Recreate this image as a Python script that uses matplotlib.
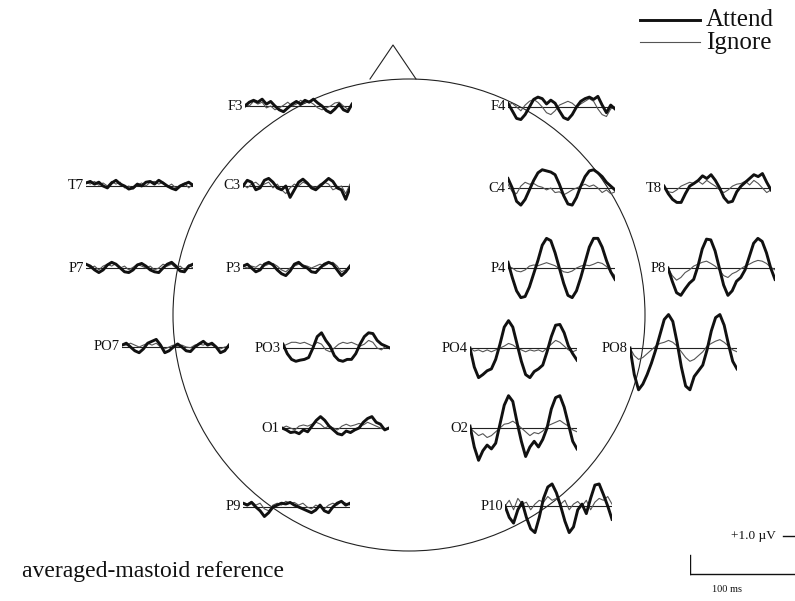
import numpy as np
import matplotlib.pyplot as plt
from matplotlib.patches import Circle

plt.rcParams['font.family'] = ['Liberation Serif', 'DejaVu Serif']

# time base of each averaged trace (ms)
t_ms = np.arange(0, 101, 4)

# averaged waveforms (uV), attend vs ignore, one pair per electrode
f3_attend = [0.0, 0.1, 0.15, 0.1, 0.18, 0.05, 0.12, 0.0, -0.1, -0.15, -0.05, 0.05, 0.12,
             0.05, 0.15, 0.1, 0.18, 0.08, 0.0, -0.12, -0.18, -0.08, 0.05, -0.1, -0.15, 0.05]
f3_ignore = [0.05, 0.0, 0.12, 0.05, 0.1, -0.05, 0.0, -0.1, -0.05, 0.02, 0.1, 0.0, 0.05,
             0.15, 0.08, 0.12, 0.05, -0.05, -0.1, -0.05, 0.0, 0.08, 0.1, 0.0, -0.08, 0.0]
f4_attend = [0.1, -0.1, -0.3, -0.33, -0.2, 0.0, 0.2, 0.26, 0.22, 0.08, 0.18, 0.1, -0.1,
             -0.28, -0.33, -0.2, 0.0, 0.15, 0.22, 0.26, 0.2, 0.28, 0.05, -0.15, 0.05, -0.05]
f4_ignore = [0.05, 0.1, 0.0, -0.1, 0.05, 0.15, 0.2, 0.12, 0.0, -0.15, -0.2, -0.1, 0.05,
             0.1, 0.15, 0.1, 0.0, 0.08, 0.15, 0.22, 0.15, -0.05, -0.2, -0.25, -0.05, 0.0]
t7_attend = [0.08, 0.12, 0.05, 0.1, 0.0, -0.05, 0.08, 0.15, 0.05, 0.0, -0.08, -0.05, 0.05,
             0.0, 0.1, 0.12, 0.05, 0.15, 0.08, 0.0, -0.06, -0.1, 0.0, 0.05, 0.1, 0.02]
t7_ignore = [0.1, 0.05, 0.12, 0.02, 0.08, 0.0, 0.12, 0.05, 0.1, -0.05, 0.0, -0.08, 0.02,
             0.08, 0.0, 0.1, 0.12, 0.05, 0.1, -0.02, 0.05, -0.05, 0.02, 0.08, -0.05, 0.05]
c3_attend = [0.0, 0.15, 0.1, -0.1, -0.05, 0.15, 0.2, 0.1, -0.05, -0.1, 0.0, -0.3, -0.1,
             0.1, 0.18, 0.08, -0.05, -0.1, 0.0, 0.1, 0.2, 0.12, -0.05, -0.1, -0.35, -0.05]
c3_ignore = [0.05, -0.05, 0.05, 0.1, 0.0, 0.05, 0.1, -0.05, 0.05, -0.1, -0.2, -0.05, 0.05,
             0.0, 0.1, 0.05, 0.0, -0.05, 0.05, 0.1, 0.05, -0.1, -0.05, 0.0, -0.2, 0.05]
c4_attend = [0.25, 0.0, -0.35, -0.45, -0.3, -0.05, 0.2, 0.4, 0.48, 0.45, 0.42, 0.35, 0.1,
             -0.2, -0.42, -0.45, -0.25, 0.05, 0.3, 0.45, 0.48, 0.4, 0.3, 0.15, 0.05, -0.05]
c4_ignore = [0.1, -0.1, -0.15, 0.05, 0.15, 0.1, 0.12, 0.05, 0.02, -0.05, 0.0, -0.12, -0.1,
             -0.18, -0.12, -0.05, 0.0, 0.05, 0.1, 0.04, 0.08, 0.0, -0.12, -0.05, -0.15, -0.1]
t8_attend = [0.05, -0.15, -0.3, -0.38, -0.38, -0.15, 0.05, 0.12, 0.2, 0.32, 0.25, 0.35, 0.2,
             0.0, -0.25, -0.38, -0.35, -0.1, 0.05, 0.15, 0.25, 0.35, 0.3, 0.38, 0.15, -0.05]
t8_ignore = [0.05, -0.1, -0.12, -0.05, 0.05, 0.1, 0.15, 0.12, 0.18, 0.1, 0.2, 0.12, 0.05,
             -0.05, -0.12, -0.05, 0.05, 0.1, 0.12, 0.18, 0.08, 0.2, 0.12, 0.0, -0.12, -0.05]
p7_attend = [0.1, 0.05, -0.05, -0.12, -0.05, 0.08, 0.15, 0.1, 0.0, -0.1, -0.12, -0.05, 0.08,
             0.12, 0.05, -0.05, -0.1, -0.12, 0.0, 0.1, 0.15, 0.05, -0.08, -0.1, 0.05, 0.1]
p7_ignore = [0.1, 0.0, 0.05, -0.05, 0.05, 0.1, 0.05, 0.12, 0.0, 0.05, -0.05, 0.02, 0.1,
             0.05, 0.0, 0.05, -0.05, 0.0, 0.1, 0.05, 0.1, 0.0, 0.05, -0.05, 0.08, 0.0]
p3_attend = [0.05, 0.1, 0.0, -0.1, -0.05, 0.1, 0.15, 0.08, -0.05, -0.15, -0.2, -0.08, 0.1,
             0.15, 0.05, 0.0, -0.1, -0.12, 0.0, 0.1, 0.15, 0.1, -0.05, -0.2, -0.1, 0.05]
p3_ignore = [0.05, 0.0, 0.05, 0.02, 0.1, 0.05, 0.1, 0.12, 0.05, -0.05, -0.1, 0.0, 0.05,
             0.1, 0.08, 0.05, 0.0, 0.05, 0.1, 0.05, 0.12, 0.15, 0.05, -0.1, -0.05, 0.05]
p4_attend = [0.15, -0.25, -0.6, -0.78, -0.75, -0.5, -0.15, 0.2, 0.6, 0.78, 0.72, 0.4, 0.0,
             -0.4, -0.72, -0.78, -0.6, -0.25, 0.15, 0.55, 0.78, 0.78, 0.55, 0.2, -0.1, -0.3]
p4_ignore = [0.05, 0.0, -0.08, -0.1, -0.05, 0.05, 0.08, 0.06, 0.1, 0.14, 0.1, 0.06, -0.02,
             -0.1, -0.12, -0.08, 0.0, 0.05, 0.08, 0.06, 0.1, 0.15, 0.12, 0.04, -0.1, -0.2]
p8_attend = [0.0, -0.35, -0.65, -0.72, -0.55, -0.4, -0.3, 0.05, 0.5, 0.76, 0.74, 0.45, 0.0,
             -0.45, -0.72, -0.6, -0.35, -0.25, -0.05, 0.3, 0.65, 0.78, 0.7, 0.4, 0.0, -0.3]
p8_ignore = [0.0, -0.2, -0.32, -0.25, -0.12, -0.05, 0.05, 0.1, 0.15, 0.18, 0.12, 0.05, -0.05,
             -0.2, -0.25, -0.15, -0.1, -0.02, 0.05, 0.1, 0.16, 0.2, 0.18, 0.12, 0.02, -0.05]
po7_attend = [0.05, 0.1, 0.0, -0.1, -0.15, -0.05, 0.1, 0.15, 0.2, 0.05, -0.15, -0.1, 0.0,
              0.08, 0.0, -0.1, -0.12, 0.0, 0.08, 0.15, 0.05, 0.1, 0.0, -0.15, -0.1, 0.05]
po7_ignore = [0.05, 0.05, 0.1, 0.05, 0.0, 0.05, 0.1, 0.05, 0.1, 0.0, -0.05, 0.0, 0.05,
              0.02, 0.05, 0.0, -0.02, 0.05, 0.08, 0.05, 0.1, 0.05, 0.0, -0.05, 0.0, 0.02]
po3_attend = [0.1, -0.15, -0.3, -0.35, -0.32, -0.3, -0.25, 0.0, 0.3, 0.4, 0.2, 0.05, -0.2,
              -0.32, -0.35, -0.3, -0.3, -0.15, 0.1, 0.3, 0.4, 0.38, 0.2, 0.1, 0.05, 0.0]
po3_ignore = [0.05, 0.1, 0.15, 0.15, 0.12, 0.15, 0.1, 0.05, 0.15, 0.1, -0.05, -0.1, 0.0,
              0.1, 0.15, 0.12, 0.15, 0.1, 0.05, 0.1, 0.2, 0.15, 0.0, -0.05, 0.05, 0.0]
po4_attend = [0.0, -0.5, -0.78, -0.7, -0.6, -0.55, -0.3, 0.1, 0.55, 0.72, 0.55, 0.1, -0.35,
              -0.7, -0.78, -0.62, -0.55, -0.45, -0.1, 0.3, 0.6, 0.62, 0.4, 0.05, -0.15, -0.32]
po4_ignore = [0.0, -0.08, -0.05, -0.1, -0.05, -0.1, -0.05, 0.0, 0.05, 0.12, 0.08, 0.0, -0.05,
              -0.1, -0.05, -0.08, -0.05, -0.1, 0.0, 0.1, 0.2, 0.15, 0.05, -0.05, -0.1, -0.05]
po8_attend = [0.0, -0.7, -1.1, -0.95, -0.7, -0.4, -0.05, 0.35, 0.75, 0.88, 0.7, 0.15, -0.5,
              -1.0, -1.1, -0.75, -0.6, -0.45, -0.05, 0.45, 0.8, 0.88, 0.6, 0.1, -0.35, -0.55]
po8_ignore = [0.0, -0.2, -0.3, -0.25, -0.15, -0.05, 0.05, 0.12, 0.15, 0.2, 0.15, 0.05, -0.1,
              -0.25, -0.35, -0.3, -0.2, -0.1, 0.05, 0.12, 0.18, 0.22, 0.15, 0.05, -0.05, -0.1]
o1_attend = [0.0, -0.05, -0.12, -0.1, -0.15, -0.05, -0.1, 0.05, 0.2, 0.3, 0.2, 0.05, -0.05,
             -0.15, -0.18, -0.08, -0.12, -0.05, 0.0, 0.15, 0.25, 0.3, 0.15, 0.1, -0.05, 0.0]
o1_ignore = [0.0, 0.05, 0.0, -0.05, 0.05, 0.08, 0.05, 0.1, 0.15, 0.1, 0.0, 0.05, 0.0,
             -0.05, 0.05, 0.1, 0.05, 0.08, 0.12, 0.08, 0.15, 0.1, 0.05, 0.0, -0.05, 0.0]
o2_attend = [0.05, -0.5, -0.85, -0.6, -0.45, -0.55, -0.4, 0.1, 0.6, 0.85, 0.7, 0.15, -0.35,
             -0.75, -0.5, -0.35, -0.5, -0.3, 0.0, 0.5, 0.8, 0.85, 0.55, 0.1, -0.35, -0.55]
o2_ignore = [0.0, -0.1, -0.2, -0.15, -0.25, -0.2, -0.1, 0.0, 0.1, 0.12, 0.18, 0.1, 0.0,
             -0.1, -0.2, -0.12, -0.15, -0.08, 0.05, 0.1, 0.15, 0.2, 0.12, 0.05, -0.05, -0.1]
p9_attend = [0.1, 0.05, 0.12, 0.0, -0.1, -0.25, -0.15, 0.0, 0.05, 0.1, 0.08, 0.12, 0.05,
             0.0, -0.05, -0.1, -0.15, -0.08, 0.05, -0.1, -0.15, 0.0, 0.1, 0.15, 0.05, 0.1]
p9_ignore = [0.12, 0.08, 0.15, 0.05, 0.1, -0.05, -0.1, 0.05, 0.1, 0.05, 0.15, 0.1, 0.12,
             0.05, 0.1, 0.0, -0.05, 0.05, 0.0, -0.05, 0.05, 0.1, 0.05, 0.15, 0.1, 0.05]
p10_attend = [0.0, -0.3, -0.45, -0.1, 0.1, -0.3, -0.6, -0.7, -0.3, 0.2, 0.5, 0.58, 0.35,
              0.0, -0.4, -0.7, -0.55, -0.1, 0.05, -0.2, 0.2, 0.55, 0.58, 0.3, 0.0, -0.35]
p10_ignore = [0.0, 0.15, -0.1, 0.2, 0.05, 0.1, -0.1, 0.05, 0.15, 0.1, 0.25, 0.15, 0.2,
              0.05, 0.15, -0.1, 0.05, 0.12, 0.0, 0.15, -0.1, 0.1, 0.2, 0.15, 0.25, 0.05]

# electrode name -> (attend, ignore, left edge px, baseline px)
layout = [
    ('F3', f3_attend, f3_ignore, 245, 106),
    ('F4', f4_attend, f4_ignore, 508, 107),
    ('T7', t7_attend, t7_ignore, 86, 186),
    ('C3', c3_attend, c3_ignore, 243, 186),
    ('C4', c4_attend, c4_ignore, 508, 188),
    ('T8', t8_attend, t8_ignore, 664, 188),
    ('P7', p7_attend, p7_ignore, 86, 268),
    ('P3', p3_attend, p3_ignore, 243, 268),
    ('P4', p4_attend, p4_ignore, 508, 268),
    ('P8', p8_attend, p8_ignore, 668, 268),
    ('PO7', po7_attend, po7_ignore, 122, 347),
    ('PO3', po3_attend, po3_ignore, 283, 348),
    ('PO4', po4_attend, po4_ignore, 470, 348),
    ('PO8', po8_attend, po8_ignore, 630, 348),
    ('O1', o1_attend, o1_ignore, 282, 428),
    ('O2', o2_attend, o2_ignore, 470, 428),
    ('P9', p9_attend, p9_ignore, 243, 507),
    ('P10', p10_attend, p10_ignore, 505, 506),
]

W, H = 795, 601
PX_PER_MS = 1.07
PX_PER_UV = 38.0
YR = 2.0  # uV half-range of each small axes

fig = plt.figure(figsize=(W / 100, H / 100), dpi=100)
fig.patch.set_facecolor('white')

# head outline, drawn in pixel space
head = fig.add_axes([0, 0, 1, 1])
head.set_xlim(0, W)
head.set_ylim(H, 0)
head.axis('off')
head.add_patch(Circle((409, 315), 236, fill=False, lw=0.8, color='#222222'))
head.plot([370, 393, 416], [79, 45, 79], color='#222222', lw=0.8)

# legend
head.plot([640, 700], [20, 20], color='#111111', lw=2.1)
head.plot([640, 700], [42, 42], color='#555555', lw=0.8)
head.text(706, 20, 'Attend', fontsize=18, va='center', ha='left', color='#111111')
head.text(706, 43, 'Ignore', fontsize=18, va='center', ha='left', color='#111111')
head.text(22, 572, 'averaged-mastoid reference', fontsize=17, va='center', ha='left',
          color='#111111')


def trace_axes(x0, y0):
    w = 100 * PX_PER_MS
    h = 2 * YR * PX_PER_UV
    ax = fig.add_axes([x0 / W, (H - y0 - h / 2) / H, w / W, h / H])
    ax.set_xlim(0, 100)
    ax.set_ylim(-YR, YR)
    ax.axis('off')
    ax.patch.set_alpha(0)
    return ax


for name, att, ign, x0, y0 in layout:
    ax = trace_axes(x0, y0)
    ax.plot([0, 100], [0, 0], color='#222222', lw=0.8)
    ax.plot(t_ms, ign, color='#555555', lw=0.8)
    ax.plot(t_ms, att, color='#111111', lw=2.1, solid_joinstyle='round')
    ax.text(-2, 0, name, fontsize=10.5, ha='right', va='center', color='#111111')

# calibration bar: 100 ms, 1.0 uV
sb = trace_axes(690, 574)
sb.plot([0, 100], [0, 0], color='#111111', lw=1.0)
sb.plot([0, 0], [0, 0.5], color='#111111', lw=1.0)
sb.plot([87, 100], [1.0, 1.0], color='#111111', lw=1.0)
sb.text(80, 1.0, '+1.0 \u00b5V', fontsize=9.5, ha='right', va='center', color='#111111')
sb.text(35, -0.42, '100 ms', fontsize=7.5, ha='center', va='center', color='#111111')

fig.savefig('out.png', dpi=100, facecolor='white')
